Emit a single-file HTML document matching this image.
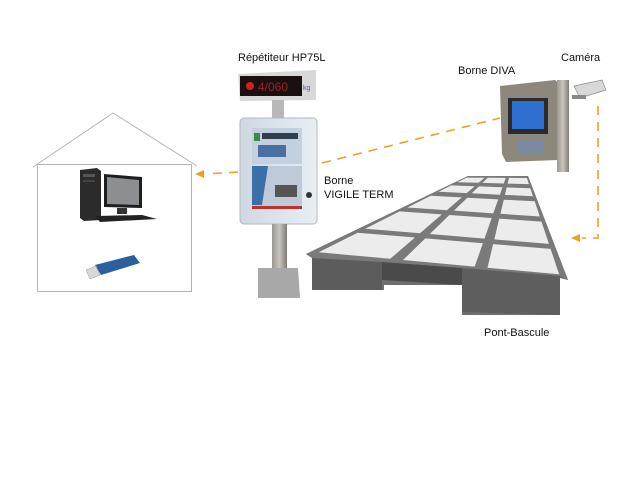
<!DOCTYPE html>
<html><head><meta charset="utf-8"><style>
html,body{margin:0;padding:0;background:#fff;}
svg{display:block;}
text{font-family:"Liberation Sans",sans-serif;font-size:11px;fill:#111;}
</style></head><body>
<svg width="640" height="480" viewBox="0 0 640 480" xmlns="http://www.w3.org/2000/svg">
<defs>
<linearGradient id="met" x1="0" x2="1"><stop offset="0" stop-color="#9a9690"/><stop offset="0.5" stop-color="#c9c5be"/><stop offset="1" stop-color="#7f7b75"/></linearGradient>
<linearGradient id="cab" x1="0" x2="1"><stop offset="0" stop-color="#cfd8e2"/><stop offset="1" stop-color="#e8eef4"/></linearGradient>
</defs>
<!-- House -->
<polyline points="33,167 113,113 197,166" fill="none" stroke="#b5b5b5" stroke-width="1"/>
<rect x="37.5" y="164.5" width="154" height="127" fill="none" stroke="#b5b5b5" stroke-width="1"/>
<!-- PC tower -->
<polygon points="80,170 97,168 101,171 101,220 84,221 80,218" fill="#2b2b2b"/>
<rect x="83" y="174" width="12" height="3" fill="#555"/>
<rect x="83" y="180" width="12" height="2" fill="#444"/>
<!-- monitor -->
<polygon points="104,174 142,177 142,208 104,207" fill="#1e1e1e"/>
<polygon points="107,177 139,180 139,205 107,204" fill="#8b8f92"/>
<rect x="117" y="208" width="10" height="6" fill="#333"/>
<polygon points="95,216 142,215 157,219 100,222" fill="#222"/>
<!-- USB -->
<polygon points="95,265 134,255 140,263 101,275" fill="#2a5fa0"/>
<polygon points="86,270 96,266 100,275 90,279" fill="#d8d8d8" stroke="#999" stroke-width="0.5"/>
<!-- Repeater display -->
<polygon points="238,74 316,70 316,100 240,101" fill="#d8d8d8"/>
<rect x="240" y="76" width="62" height="20" fill="#1a1010"/>
<circle cx="250" cy="86" r="4" fill="#d21f1f"/>
<text x="258" y="91" style="fill:#a02020;font-size:12px">4/060</text>
<text x="303" y="90" style="fill:#4060a0;font-size:7px">kg</text>
<rect x="272" y="100" width="12" height="20" fill="#b8b8b8"/>
<!-- Cabinet -->
<rect x="240" y="118" width="77" height="106" rx="4" fill="url(#cab)" stroke="#b0b8c0"/>
<rect x="252" y="128" width="50" height="36" fill="#c3d0de"/>
<rect x="262" y="133" width="36" height="6" fill="#2f3e4a"/>
<rect x="254" y="133" width="6" height="8" fill="#3a8a4a"/>
<rect x="258" y="145" width="28" height="12" fill="#4b6fa3"/>
<rect x="252" y="166" width="50" height="42" fill="#bfcad8"/>
<polygon points="252,166 268,166 262,205 252,205" fill="#3c6ea8"/>
<rect x="275" y="185" width="22" height="12" fill="#555"/>
<rect x="252" y="206" width="50" height="3" fill="#c03030"/>
<circle cx="309" cy="195" r="3" fill="#333"/>
<!-- pole + base -->
<rect x="272" y="224" width="15" height="45" fill="url(#met)"/>
<polygon points="258,268 298,268 300,298 258,298" fill="#a8a8a8"/>
<!-- Platform -->
<polygon points="306,254 468,176 528,176 568,280 560,278 560,315 462,315 462,285 384,285 384,290 312,290 312,258" fill="#6f6f6f"/>
<polygon points="306,254 468,176 528,176 568,280 560,276 312,258" fill="#7a7a7a"/>
<polygon points="312,258 382,262 382,290 312,290" fill="#5c5c5c"/>
<polygon points="382,262 462,268 462,285 382,280" fill="#4a4a4a"/>
<polygon points="462,268 560,276 560,315 462,312" fill="#5e5e5e"/>
<g fill="#ececec">
<polygon points="318.6,252.3 357.6,232.7 415.0,237.5 390.2,258.8"/>
<polygon points="365.3,228.7 399.6,211.4 441.9,214.4 420.0,233.2"/>
<polygon points="407.4,207.5 430.8,195.7 461.8,197.4 446.8,210.2"/>
<polygon points="438.6,191.7 451.1,185.4 474.7,186.3 466.7,193.1"/>
<polygon points="457.3,182.3 466.7,177.6 484.6,177.7 478.6,182.8"/>
<polygon points="403.0,260.0 425.3,238.4 482.9,243.2 474.7,266.6"/>
<polygon points="429.8,234.0 449.4,215.0 491.7,218.0 484.5,238.6"/>
<polygon points="453.9,210.6 467.3,197.7 498.2,199.4 493.3,213.4"/>
<polygon points="471.7,193.3 478.9,186.4 502.5,187.2 499.9,194.7"/>
<polygon points="482.5,182.9 487.8,177.7 505.7,177.9 503.8,183.5"/>
<polygon points="487.5,267.8 493.1,244.1 550.6,248.9 559.1,274.3"/>
<polygon points="494.3,239.4 499.2,218.6 541.5,221.6 548.9,243.9"/>
<polygon points="500.4,213.8 503.8,199.7 534.7,201.3 539.8,216.5"/>
<polygon points="504.9,194.9 506.7,187.4 530.3,188.2 533.0,196.3"/>
<polygon points="507.6,183.6 509.0,177.9 526.9,178.0 528.9,184.1"/>
</g>
<!-- Borne DIVA -->
<polygon points="500,86 555,80 560,84 558,160 506,162 502,154" fill="#8d877c"/>
<rect x="508" y="98" width="40" height="36" fill="#2b2b2b"/>
<rect x="512" y="101" width="32" height="28" fill="#2f6fd0"/>
<rect x="518" y="140" width="26" height="14" fill="#7a8aa0"/>
<rect x="557" y="80" width="12" height="92" fill="url(#met)"/>
<polygon points="574,86 602,80 606,90 580,98" fill="#d8d8d8" stroke="#888" stroke-width="0.7"/>
<rect x="572" y="95" width="14" height="4" fill="#888"/>
<!-- Connectors -->
<g stroke="#f0a020" stroke-width="1.6" fill="none" stroke-dasharray="9,7">
<line x1="322" y1="163" x2="500" y2="118"/>
<line x1="238" y1="172" x2="206" y2="174"/>
<polyline points="598,106 598,238 582,238"/>
</g>
<polygon points="195,174 204,170 204,178" fill="#f0a020"/>
<polygon points="571,238 580,234 580,242" fill="#f0a020"/>
<!-- Labels -->
<text x="238" y="61">Répétiteur HP75L</text>
<text x="458" y="74">Borne DIVA</text>
<text x="561" y="61">Caméra</text>
<text x="324" y="184">Borne</text>
<text x="324" y="198">VIGILE TERM</text>
<text x="484" y="336">Pont-Bascule</text>
</svg>
</body></html>
